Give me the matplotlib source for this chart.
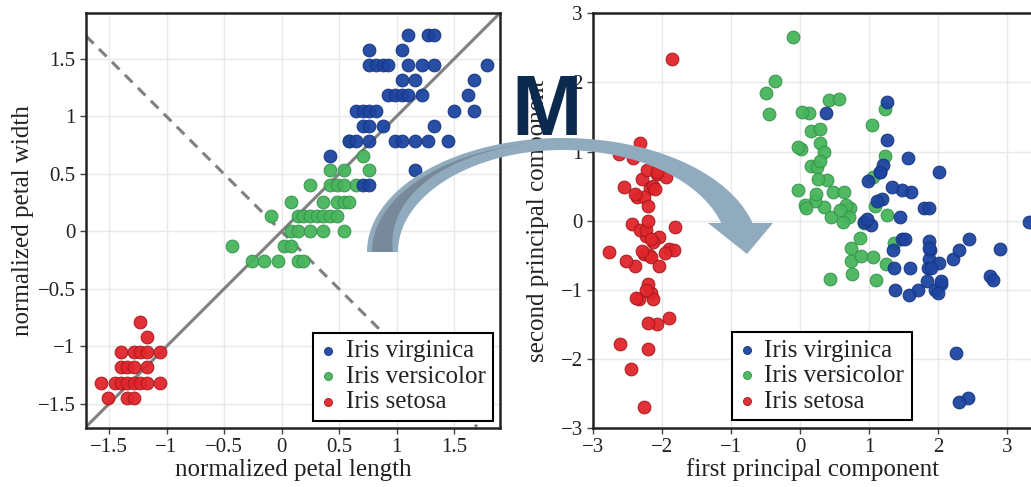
import matplotlib
matplotlib.use("Agg")
import matplotlib.pyplot as plt
import numpy as np
from matplotlib.patches import Polygon
from matplotlib.transforms import Affine2D
from matplotlib.ticker import FuncFormatter, MultipleLocator

# normalized petal length / width (unique points per species)
setosa_len = [-1.57, -1.45, -1.40, -1.34, -1.28, -1.23, -1.17, -1.06,
              -1.51, -1.34, -1.28,
              -1.40, -1.34, -1.28, -1.17,
              -1.40, -1.28, -1.23, -1.17, -1.06,
              -1.17, -1.23]
setosa_wid = [-1.32, -1.32, -1.32, -1.32, -1.32, -1.32, -1.32, -1.32,
              -1.45, -1.45, -1.45,
              -1.18, -1.18, -1.18, -1.18,
              -1.05, -1.05, -1.05, -1.05, -1.05,
              -0.92, -0.79]

versicolor_len = [-0.26, -0.15, -0.03, 0.14, 0.19,
                  -0.43, 0.02, 0.08,
                  0.08, 0.14, 0.25, 0.36, 0.54,
                  -0.09, 0.14, 0.19, 0.25, 0.31, 0.36, 0.42, 0.48,
                  0.08, 0.36, 0.48, 0.54, 0.59,
                  0.25, 0.42, 0.48, 0.54, 0.65,
                  0.42, 0.54, 0.76,
                  0.71,
                  0.59]
versicolor_wid = [-0.26, -0.26, -0.26, -0.26, -0.26,
                  -0.13, -0.13, -0.13,
                  0.00, 0.00, 0.00, 0.00, 0.00,
                  0.13, 0.13, 0.13, 0.13, 0.13, 0.13, 0.13, 0.13,
                  0.26, 0.26, 0.26, 0.26, 0.26,
                  0.40, 0.40, 0.40, 0.40, 0.40,
                  0.53, 0.53, 0.53,
                  0.66,
                  0.79]

virginica_len = [1.05,
                 0.71, 0.76,
                 1.16,
                 0.42,
                 0.59, 0.65, 0.76, 0.99, 1.05, 1.16, 1.27, 1.45,
                 0.71, 0.76, 0.88, 1.33,
                 0.65, 0.71, 0.76, 0.82, 1.50, 1.67,
                 0.93, 0.99, 1.05, 1.10, 1.22, 1.62,
                 1.05, 1.16, 1.67,
                 0.76, 0.82, 0.88, 0.93, 1.10, 1.22, 1.33, 1.79,
                 0.76, 1.05,
                 1.10, 1.27, 1.33]
virginica_wid = [0.26,
                 0.40, 0.40,
                 0.53,
                 0.66,
                 0.79, 0.79, 0.79, 0.79, 0.79, 0.79, 0.79, 0.79,
                 0.92, 0.92, 0.92, 0.92,
                 1.05, 1.05, 1.05, 1.05, 1.05, 1.05,
                 1.19, 1.19, 1.19, 1.19, 1.19, 1.19,
                 1.32, 1.32, 1.32,
                 1.45, 1.45, 1.45, 1.45, 1.45, 1.45, 1.45, 1.45,
                 1.58, 1.58,
                 1.71, 1.71, 1.71]

# principal components
setosa_pc1 = [-2.26, -2.08, -2.36, -2.30, -2.39, -2.08, -2.44, -2.23, -2.33, -2.18,
              -2.17, -2.33, -2.22, -2.63, -2.20, -2.26, -2.21, -2.19, -1.90, -2.34,
              -1.91, -2.21, -2.77, -1.82, -2.23, -1.95, -2.05, -2.17, -2.14, -2.27,
              -2.14, -1.83, -2.61, -2.45, -2.11, -2.21, -2.05, -2.53, -2.43, -2.17,
              -2.29, -1.86, -2.55, -1.96, -2.14, -2.07, -2.38, -2.39, -2.23, -2.20]
setosa_pc2 = [-0.48, 0.67, 0.34, 0.60, -0.65, -1.49, -0.05, -0.22, 1.12, 0.47,
              -1.04, -0.13, 0.73, 0.96, -1.86, -2.69, -1.48, -0.49, -1.41, -1.13,
              -0.41, -0.92, -0.46, -0.09, -0.14, 0.63, -0.24, -0.53, -0.31, 0.34,
              0.50, -0.42, -1.79, -2.15, 0.46, 0.21, -0.66, -0.59, 0.90, -0.27,
              -0.44, 2.34, 0.48, -0.47, -1.14, 0.71, -1.12, 0.39, -1.00, -0.01]

versicolor_pc1 = [1.10, 0.73, 1.24, 0.41, 1.08, 0.39, 0.75, -0.49, 0.93, 0.01,
                  -0.11, 0.44, 0.56, 0.72, -0.03, 0.88, 0.35, 0.16, 1.23, 0.16,
                  0.74, 0.48, 1.23, 0.63, 0.70, 0.87, 1.26, 1.36, 0.66, -0.04,
                  0.13, 0.02, 0.24, 1.06, 0.22, 0.43, 1.05, 1.04, 0.07, 0.28,
                  0.28, 0.62, 0.34, -0.36, 0.29, 0.09, 0.23, 0.58, -0.45, 0.26]
versicolor_pc2 = [-0.86, -0.59, -0.62, 1.75, 0.21, 0.59, -0.77, 1.85, -0.03, 1.03,
                  2.65, 0.06, 1.76, 0.19, 0.44, -0.51, 0.20, 0.79, 1.62, 1.30,
                  -0.40, 0.42, 0.93, 0.42, 0.06, -0.25, 0.08, -0.33, 0.23, 1.06,
                  1.56, 1.57, 0.78, 0.63, 0.29, -0.85, -0.52, 1.38, 0.22, 1.33,
                  1.12, -0.02, 0.99, 2.02, 0.86, 0.18, 0.38, 0.15, 1.54, 0.60]

virginica_pc1 = [1.84, 1.16, 2.21, 1.44, 1.87, 2.75, 0.37, 2.30, 2.01, 2.26,
                 1.36, 1.60, 1.88, 1.26, 1.47, 1.59, 1.47, 2.43, 3.31, 1.26,
                 2.04, 0.98, 2.90, 1.33, 1.70, 1.95, 1.18, 1.02, 1.79, 1.86,
                 2.44, 2.30, 1.86, 1.11, 1.20, 2.80, 1.58, 1.35, 0.92, 1.85,
                 2.01, 1.90, 1.16, 2.04, 2.00, 1.87, 1.56, 1.52, 1.37, 0.96]
virginica_pc2 = [-0.87, 0.70, -0.56, 0.05, -0.30, -0.80, 1.56, -0.42, 0.71, -1.92,
                 -0.69, 0.42, -0.42, 1.16, 0.44, -0.68, -0.26, -2.56, -0.02, 1.71,
                 -0.91, 0.57, -0.41, 0.48, -1.01, -1.01, 0.32, -0.06, 0.19, -0.56,
                 -0.26, -2.63, 0.18, 0.29, 0.81, -0.86, -1.07, -0.42, -0.02, -0.68,
                 -0.61, -0.69, 0.70, -0.87, -1.05, -0.39, 0.90, -0.27, -1.01, 0.02]

labels = ["Iris setosa", "Iris versicolor", "Iris virginica"]
face_colors = ["#e0262b", "#48b45c", "#1d44a0"]
edge_colors = ["#a3181c", "#32924a", "#15357d"]

W, H = 1031, 487
plt.rcParams["font.family"] = ["Liberation Serif", "DejaVu Serif"]
fig = plt.figure(figsize=(W / 100, H / 100), dpi=100)
px = Affine2D().scale(1 / W, -1 / H).translate(0, 1) + fig.transFigure


def fig_rect(left, top, right, bottom):
    return [left / W, 1 - bottom / H, (right - left) / W, (bottom - top) / H]


def fmt(v, pos):
    return f"{v:g}".replace("-", "\u2212")


def style_axes(ax, step):
    ax.xaxis.set_major_locator(MultipleLocator(step))
    ax.yaxis.set_major_locator(MultipleLocator(step))
    ax.xaxis.set_major_formatter(FuncFormatter(fmt))
    ax.yaxis.set_major_formatter(FuncFormatter(fmt))
    ax.grid(True, color="#e8e8e8", lw=1)
    ax.set_axisbelow(True)
    for s in ax.spines.values():
        s.set_linewidth(1.8)
        s.set_color("#222222")
    ax.tick_params(direction="out", length=4.5, width=1, color="#444444",
                   labelsize=15, labelcolor="#222222", pad=3)


def add_legend(ax, handles, loc, anchor):
    leg = ax.legend(handles[::-1], labels[::-1], loc=loc,
                    bbox_to_anchor=anchor, bbox_transform=px,
                    borderaxespad=0, fontsize=18, markerscale=0.62,
                    handlelength=0.6, handletextpad=0.4, borderpad=0.3,
                    labelspacing=0.12, fancybox=False, framealpha=1)
    leg.get_frame().set_edgecolor("black")
    leg.get_frame().set_linewidth(1.5)
    for t in leg.get_texts():
        t.set_color("#222222")


# left panel
ax1 = fig.add_axes(fig_rect(86, 13, 500, 428))
ax1.set_xlim(-1.7, 1.9)
ax1.set_ylim(-1.71, 1.9)
ax1.plot([-1.7, 1.9], [-1.7, 1.9], color="#808080", lw=2.2, zorder=2)
ax1.plot([-1.7, 1.7], [1.7, -1.7], color="#808080", lw=2.2, ls=(0, (3.5, 2.5)), zorder=2)
h1 = []
for xs, ys, fc, ec in zip([setosa_len, versicolor_len, virginica_len],
                          [setosa_wid, versicolor_wid, virginica_wid],
                          face_colors, edge_colors):
    h1.append(ax1.scatter(xs, ys, s=85, c=fc, edgecolors=ec, linewidths=0.7,
                          alpha=0.95, zorder=3))
style_axes(ax1, 0.5)
ax1.set_xlabel("normalized petal length", fontsize=18, color="#222222")
ax1.set_ylabel("normalized petal width", fontsize=18, color="#222222")
ax1.xaxis.set_label_coords(0.5, -0.075)
ax1.yaxis.set_label_coords(-0.125, 0.5)
add_legend(ax1, h1, "lower right", (493, 421))

# right panel
ax2 = fig.add_axes(fig_rect(593.3, 13.3, 1038.3, 428))
ax2.set_xlim(-3, 3.45)
ax2.set_ylim(-3, 3)
h2 = []
for xs, ys, fc, ec in zip([setosa_pc1, versicolor_pc1, virginica_pc1],
                          [setosa_pc2, versicolor_pc2, virginica_pc2],
                          face_colors, edge_colors):
    h2.append(ax2.scatter(xs, ys, s=85, c=fc, edgecolors=ec, linewidths=0.7,
                          alpha=0.95, zorder=3))
style_axes(ax2, 1)
ax2.set_xlabel("first principal component", fontsize=18, color="#222222")
ax2.set_ylabel("second principal component", fontsize=18, color="#222222")
ax2.xaxis.set_label_coords(0.5 * (W - 593.3) / 445, -0.072)
ax2.yaxis.set_label_coords(-0.0995, 0.5)
add_legend(ax2, h2, "lower left", (732, 420))

# curved arrow between panels (pixel coordinates)
cx, cy = 563, 252
ao, bo = 196, 114
ai, bi = 165, 102
t_o = np.arcsin((cy - 223) / bo)
t_i = np.arcsin((cy - 223) / bi)
t1 = np.linspace(np.pi, t_o, 120)
t2 = np.linspace(t_i, np.pi, 120)
outer = np.c_[cx + ao * np.cos(t1), cy - bo * np.sin(t1)]
inner = np.c_[cx + ai * np.cos(t2), cy - bi * np.sin(t2)]
head = np.array([[773, 223], [747, 254], [708, 223]])
arrow = np.vstack([outer, head, inner])
fig.add_artist(Polygon(arrow, closed=True, transform=px, facecolor="#8fabbd",
                       edgecolor="none", zorder=4))

t3 = np.linspace(np.pi, 1.75, 80)
frac = (np.pi - t3) / (np.pi - 1.75)
a_in = (ai + 5) + frac * (ao - ai - 10)
b_in = (bi + 4) + frac * (bo - bi - 8)
dark_out = np.c_[cx + (ao - 5) * np.cos(t3), cy - (bo - 4) * np.sin(t3)]
dark_in = np.c_[cx + a_in * np.cos(t3), cy - b_in * np.sin(t3)][::-1]
fig.add_artist(Polygon(np.vstack([dark_out, dark_in]), closed=True, transform=px,
                       facecolor="#788a99", edgecolor="none", zorder=4))

fig.text(546.5 / W, 1 - 135 / H, "M", fontsize=61, fontweight="heavy",
         family="Liberation Sans", color="#0b2a4e", ha="center", va="baseline",
         zorder=5)

fig.savefig("out.png", dpi=100)
